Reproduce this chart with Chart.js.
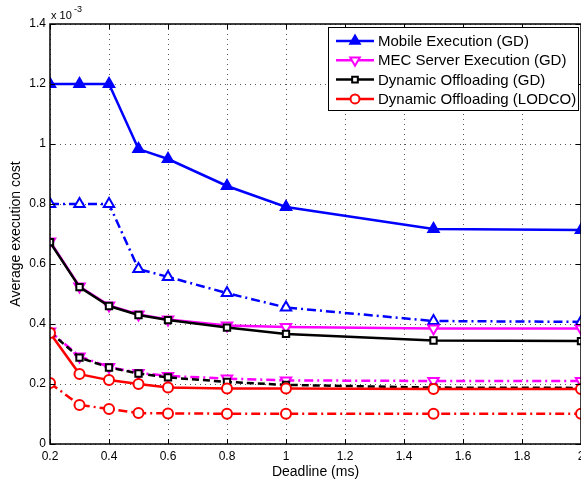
<!DOCTYPE html>
<html>
<head>
<meta charset="utf-8">
<script src="https://cdn.jsdelivr.net/npm/chart.js@4/dist/chart.umd.min.js"></script>
<style>
  html, body { margin: 0; padding: 0; background: #fff; overflow: hidden; }
  .wrap { width: 581px; height: 485px; overflow: hidden; }
  .box { width: 600px; height: 485px; }
</style>
</head>
<body>
<div class="wrap"><div class="box"><canvas id="chart"></canvas></div></div>
<script>
// --- Data (values in units of 1e-3) ---
const deadlines = [0.2, 0.3, 0.4, 0.5, 0.6, 0.8, 1.0, 1.5, 2.0];
const mobileGD      = [1.2, 1.2, 1.2, 0.983, 0.95, 0.86, 0.79, 0.717, 0.713];
const mobileGD2     = [0.8, 0.8, 0.8, 0.583, 0.557, 0.503, 0.455, 0.41, 0.407];
const mecGD         = [0.675, 0.525, 0.462, 0.432, 0.415, 0.395, 0.39, 0.385, 0.385];
const mecGD2        = [0.375, 0.292, 0.257, 0.237, 0.227, 0.218, 0.212, 0.21, 0.21];
const dynGD         = [0.673, 0.523, 0.46, 0.43, 0.413, 0.388, 0.367, 0.345, 0.343];
const dynGD2        = [0.373, 0.288, 0.255, 0.235, 0.222, 0.207, 0.197, 0.188, 0.187];
const dynLODCO      = [0.37, 0.233, 0.213, 0.2, 0.188, 0.185, 0.185, 0.183, 0.183];
const dynLODCO2     = [0.203, 0.13, 0.117, 0.103, 0.102, 0.101, 0.101, 0.101, 0.101];
const xTicks = [0.2, 0.4, 0.6, 0.8, 1, 1.2, 1.4, 1.6, 1.8, 2];
const xTickLabels = ['0.2', '0.4', '0.6', '0.8', '1', '1.2', '1.4', '1.6', '1.8', '2'];
const yTicks = [0, 0.2, 0.4, 0.6, 0.8, 1, 1.2, 1.4];
const yTickLabels = ['0', '0.2', '0.4', '0.6', '0.8', '1', '1.2', '1.4'];

const FONT = "'Liberation Sans', Arial, sans-serif";
const DASHDOT = [9, 4, 2, 4];

const pts = arr => arr.map((v, i) => ({ x: deadlines[i], y: v }));

function series(label, data, color, style, opts) {
    return Object.assign({
        label: label,
        data: pts(data),
        borderColor: color,
        backgroundColor: color,
        pointBorderColor: color,
        pointBackgroundColor: '#fff',
        pointStyle: style,
        pointRadius: 5,
        pointBorderWidth: 2,
        borderWidth: 2.5,
        tension: 0,
        fill: false
    }, opts || {});
}

const datasets = [
    series('Mobile Execution (GD)', mobileGD, '#0000ff', 'triangle', { pointBackgroundColor: '#0000ff', pointRadius: 6, order: 8, legend: true }),
    series('', mobileGD2, '#0000ff', 'triangle', { borderDash: DASHDOT, pointRadius: 6, order: 7 }),
    series('MEC Server Execution (GD)', mecGD, '#ff00ff', 'triangle', { pointRotation: 180, pointRadius: 6, order: 6, legend: true }),
    series('', mecGD2, '#ff00ff', 'triangle', { pointRotation: 180, borderDash: DASHDOT, pointRadius: 6, order: 5 }),
    series('Dynamic Offloading (GD)', dynGD, '#000000', 'rect', { order: 4, pointRadius: 4.5, legend: true }),
    series('', dynGD2, '#000000', 'rect', { borderDash: [7, 4], order: 3, pointRadius: 4.5 }),
    series('Dynamic Offloading (LODCO)', dynLODCO, '#ff0000', 'circle', { order: 2, legend: true }),
    series('', dynLODCO2, '#ff0000', 'circle', { borderDash: DASHDOT, order: 1 })
];

// --- dotted grid under the lines ---
const gridPlugin = {
    id: 'dotgrid',
    beforeDatasetsDraw(chart) {
        const ctx = chart.ctx;
        const a = chart.chartArea;
        const xs = chart.scales.x, ys = chart.scales.y;
        ctx.save();
        ctx.strokeStyle = '#555';
        ctx.lineWidth = 1;
        ctx.setLineDash([1, 4]);
        ctx.beginPath();
        xTicks.forEach(v => {
            const px = Math.round(xs.getPixelForValue(v)) + 0.5;
            ctx.moveTo(px, a.top); ctx.lineTo(px, a.bottom);
        });
        yTicks.forEach(v => {
            const py = Math.round(ys.getPixelForValue(v)) + 0.5;
            ctx.moveTo(a.left, py); ctx.lineTo(a.right, py);
        });
        ctx.stroke();
        ctx.restore();
    }
};

// --- Frame: inward ticks, exponent, boxed legend ---
const framePlugin = {
    id: 'frame',
    afterDraw(chart) {
        const ctx = chart.ctx;
        const a = chart.chartArea;
        const xs = chart.scales.x, ys = chart.scales.y;
        ctx.save();
        ctx.strokeStyle = '#000';
        ctx.lineWidth = 1;
        ctx.beginPath();
        xTicks.forEach(v => {
            const px = Math.round(xs.getPixelForValue(v)) + 0.5;
            ctx.moveTo(px, a.bottom); ctx.lineTo(px, a.bottom - 5);
            ctx.moveTo(px, a.top); ctx.lineTo(px, a.top + 5);
        });
        yTicks.forEach(v => {
            const py = Math.round(ys.getPixelForValue(v)) + 0.5;
            ctx.moveTo(a.left, py); ctx.lineTo(a.left + 5, py);
            ctx.moveTo(a.right, py); ctx.lineTo(a.right - 5, py);
        });
        ctx.stroke();
        ctx.lineWidth = 1.5;
        ctx.strokeRect(a.left, a.top, a.right - a.left, a.bottom - a.top);

        // exponent label
        ctx.fillStyle = '#000';
        ctx.textBaseline = 'alphabetic';
        ctx.textAlign = 'left';
        ctx.font = '11px ' + FONT;
        ctx.fillText('x 10', a.left + 1, a.top - 5);
        ctx.font = '9px ' + FONT;
        ctx.fillText('-3', a.left + 24, a.top - 12);

        // legend
        const items = chart.data.datasets.filter(d => d.legend);
        const lx = 328, ly = 27, lw = 250, lh = 83;
        ctx.fillStyle = '#fff';
        ctx.fillRect(lx, ly, lw, lh);
        ctx.lineWidth = 1;
        ctx.strokeStyle = '#000';
        ctx.strokeRect(lx + 0.5, ly + 0.5, lw, lh);
        ctx.font = '15px ' + FONT;
        ctx.textBaseline = 'middle';
        items.forEach((d, i) => {
            const y = ly + 14 + i * 19.3;
            ctx.strokeStyle = d.borderColor;
            ctx.lineWidth = 2.5;
            ctx.beginPath();
            ctx.moveTo(lx + 8, y); ctx.lineTo(lx + 46, y);
            ctx.stroke();
            ctx.lineWidth = 2;
            ctx.fillStyle = d.pointBackgroundColor;
            Chart.helpers.drawPoint(ctx, {
                pointStyle: d.pointStyle, rotation: d.pointRotation || 0,
                radius: d.pointRadius - 0.5, borderWidth: 2
            }, lx + 27, y);
            ctx.fillStyle = '#000';
            ctx.fillText(d.label, lx + 50, y + 1);
        });
        ctx.restore();
    }
};

new Chart(document.getElementById('chart'), {
    type: 'line',
    data: { datasets: datasets },
    options: {
        responsive: true,
        maintainAspectRatio: false,
        animation: false,
        layout: { padding: { top: 24, right: 19, left: 0, bottom: 0 } },
        plugins: {
            legend: { display: false },
            tooltip: { enabled: false }
        },
        scales: {
            x: {
                type: 'linear',
                min: 0.2, max: 2,
                afterBuildTicks: s => { s.ticks = xTicks.map(v => ({ value: v })); },
                afterFit: s => { s.height = 41; },
                ticks: {
                    color: '#000', font: { family: FONT, size: 12 }, padding: 5, maxRotation: 0,
                    callback: (v, i) => xTickLabels[i]
                },
                grid: { display: false, drawTicks: false },
                border: { display: false },
                title: { display: true, text: 'Deadline (ms)', color: '#000', font: { family: FONT, size: 14 }, padding: { top: 0, bottom: 4 } }
            },
            y: {
                type: 'linear',
                min: 0, max: 1.4,
                afterBuildTicks: s => { s.ticks = yTicks.map(v => ({ value: v })); },
                afterFit: s => { s.width = 50; },
                ticks: {
                    color: '#000', font: { family: FONT, size: 12 }, padding: 4,
                    callback: (v, i) => yTickLabels[i]
                },
                grid: { display: false, drawTicks: false },
                border: { display: false },
                title: { display: true, text: 'Average execution cost', color: '#000', font: { family: FONT, size: 14 }, padding: { top: 8, bottom: 0 } }
            }
        }
    },
    plugins: [gridPlugin, framePlugin]
});
</script>
</body>
</html>
